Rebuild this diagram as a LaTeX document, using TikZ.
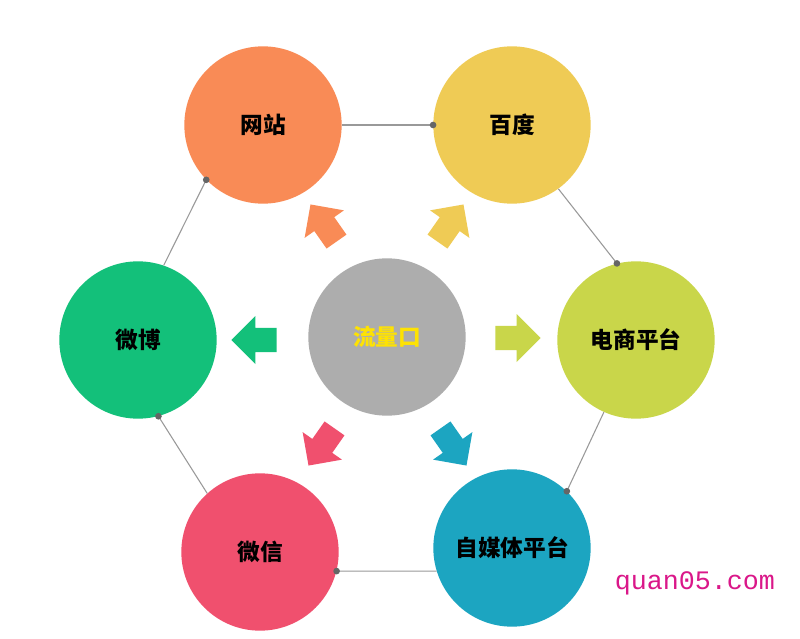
\documentclass[tikz,border=0pt]{standalone}
\usepackage{fontspec}
\newfontfamily\cjk{Noto Sans CJK SC}
\usetikzlibrary{shapes.arrows}
\definecolor{cWz}{HTML}{F98B56}
\definecolor{cBd}{HTML}{EFCB55}
\definecolor{cDs}{HTML}{C9D64A}
\definecolor{cZm}{HTML}{1CA5C1}
\definecolor{cWx}{HTML}{F0506E}
\definecolor{cWb}{HTML}{13C07A}
\definecolor{cMid}{HTML}{ADADAD}
\begin{document}
\begin{tikzpicture}[x=0.75pt,y=-0.75pt,
    ball/.style={circle,minimum size=118pt,inner sep=0,font=\cjk\bfseries\fontsize{17}{17}\selectfont},
    link/.style={draw=gray!80,line width=0.8pt},
    dot/.style={circle,fill=gray!80!black,inner sep=0,minimum size=5pt},
    push/.style={single arrow,minimum height=34pt,minimum width=36pt,single arrow head extend=8pt,
      inner xsep=3pt,inner ysep=8pt,fill=#1}]
  \useasboundingbox (0,0) rectangle (800,639);
  \fill[white] (0,0) rectangle (800,639);
  % circles
  \node[ball,fill=cMid,text=yellow!85!orange] (mid) at (387,337) {流量口};
  \node[ball,fill=cWz] (wz) at (263,125) {网站};
  \node[ball,fill=cBd] (bd) at (512,125) {百度};
  \node[ball,fill=cDs] (ds) at (636,340) {电商平台};
  \node[ball,fill=cZm] (zm) at (512,548) {自媒体平台};
  \node[ball,fill=cWx] (wx) at (260,552) {微信};
  \node[ball,fill=cWb] (wb) at (138,340) {微博};
  % ring of links
  \draw[link] (wz.0) -- (bd.180) node[dot] {};
  \draw[link] (bd.-54) -- (ds.104) node[dot] {};
  \draw[link] (ds.-114) -- (zm.46) node[dot] {};
  \draw[link] (zm.197) -- (wx.-14) node[dot] {};
  \draw[link] (wx.132) -- (wb.-75) node[dot] {};
  \draw[link] (wb.71) -- (wz.224) node[dot] {};
  % arrows
  \node[push=cWz,rotate=125] (aWz) at (327,228) {};
  \node[push=cBd,rotate=55] (aBd) at (447,228) {};
  \node[push=cDs] (aDs) at (512,338) {};
  \node[push=cZm,rotate=-55] (aZm) at (450,442) {};
  \node[push=cWx,rotate=-125] (aWx) at (325,442) {};
  \node[push=cWb,rotate=180] (aWb) at (260,340) {};
  \node[font=\fontspec{Liberation Mono}\fontsize{20}{20}\selectfont,text=magenta!80!violet] (mark) at (695,583) {quan05.com};
\end{tikzpicture}
\end{document}
